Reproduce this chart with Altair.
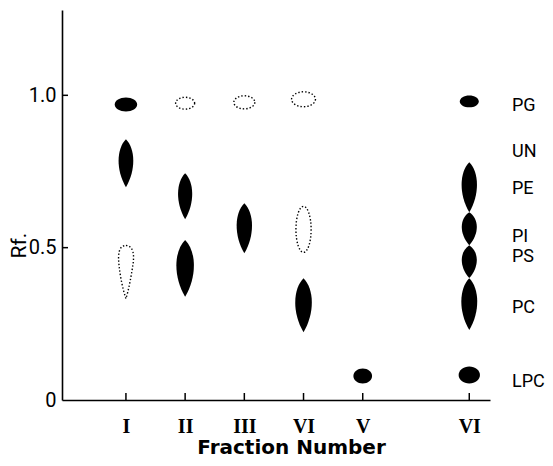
import altair as alt
import pandas as pd

# ---- data ----
lanes = [1, 2, 3, 4, 5, 6.8]
lane_labels = ["I", "II", "III", "VI", "V", "VI"]

spot_lane = [1, 1, 1, 2, 2, 2, 3, 3, 4, 4, 4, 5, 6.8, 6.8, 6.8, 6.8, 6.8, 6.8]
spot_rf = [0.970, 0.777, 0.420, 0.974, 0.669, 0.432, 0.977, 0.564, 0.987, 0.560,
           0.311, 0.079, 0.980, 0.698, 0.562, 0.454, 0.315, 0.082]
spot_len = [0.046, 0.157, 0.174, 0.039, 0.151, 0.187, 0.043, 0.164, 0.049, 0.151,
            0.177, 0.049, 0.039, 0.164, 0.108, 0.108, 0.170, 0.056]
spot_form = ["oval", "lens", "tear", "oval", "lens", "lens", "oval", "lens", "oval", "slim",
             "lens", "round", "oval", "lens", "fat", "fat", "lens", "round"]
spot_stain = ["solid", "solid", "dotted", "dotted", "solid", "solid", "dotted", "solid", "dotted", "dotted",
              "solid", "solid", "solid", "solid", "solid", "solid", "solid", "solid"]

lipid_names = ["PG", "UN", "PE", "PI", "PS", "PC", "LPC"]
lipid_rf = [0.965, 0.813, 0.692, 0.534, 0.469, 0.302, 0.059]

y_ticks = [0, 0.5, 1.0]

spots = pd.DataFrame({"lane": spot_lane, "rf": spot_rf, "len": spot_len,
                      "form": spot_form, "stain": spot_stain})
lanes_df = pd.DataFrame({"lane": lanes, "label": lane_labels})
ytick_df = pd.DataFrame({"rf": [v for v in y_ticks if v > 0]})
lipids = pd.DataFrame({"name": lipid_names, "rf": lipid_rf})


# ---- symbol outlines (unit box -1..1 vertically) ----
def ellipse(a):
    k = 0.5523
    return (f"M{a},0 C{a},{k} {k*a:.3f},1 0,1 C{-k*a:.3f},1 {-a},{k} {-a},0 "
            f"C{-a},{-k} {-k*a:.3f},-1 0,-1 C{k*a:.3f},-1 {a},{-k} {a},0 Z")


def lens(c):
    return f"M0,-1 C{c},-0.6 {c+0.02},0.3 0,1 C{-c-0.02},0.3 {-c},-0.6 0,-1 Z"


tear = ("M0,-1 C0.3,-1 0.32,-0.6 0.26,-0.25 C0.2,0.15 0.1,0.7 0,1 "
        "C-0.12,0.65 -0.22,0.15 -0.26,-0.25 C-0.3,-0.6 -0.3,-1 0,-1 Z")

forms = ["oval", "round", "slim", "lens", "fat", "tear"]
paths = [ellipse(1.6), ellipse(1.25), ellipse(0.33), lens(0.4), lens(0.6), tear]

W, H = 428, 390
PX_PER_RF = H / 1.28
SANS = "Roboto"

label_expr = " : ".join(f"datum.value == {v} ? '{t}'" for v, t in zip(lanes, lane_labels)) + " : ''"

xscale = alt.Scale(domain=[-0.08, 7.15], nice=False, zero=False)
yscale = alt.Scale(domain=[0, 1.28], nice=False, zero=False)

xaxis = alt.Axis(values=lanes, labelExpr=label_expr, ticks=False, grid=False,
                 domainColor="black", domainWidth=1.6,
                 labelFont="Liberation Serif", labelFontSize=20, labelColor="black",
                 labelFontWeight="bold",
                 labelPadding=16, title="Fraction Number",
                 titleFont="DejaVu Sans", titleFontWeight="bold", titleFontSize=20,
                 titleColor="black", titleX=229, titleY=53, titleAlign="center",
                 titleBaseline="alphabetic")
yaxis = alt.Axis(values=y_ticks, labelExpr="datum.value == 0 ? '0' : format(datum.value, '.1f')",
                 ticks=False, grid=False, domainColor="black", domainWidth=1.6,
                 labelFont=SANS,
                 labelFontSize=20, labelColor="black", labelPadding=6,
                 title="Rf.", titleFont=SANS,
                 titleFontSize=21, titleFontWeight="normal", titleColor="black",
                 titleX=-43, titleY=235, titleAlign="center", titleBaseline="middle", titleAngle=-90)

X = alt.X("lane:Q", scale=xscale, axis=xaxis)
Y = alt.Y("rf:Q", scale=yscale, axis=yaxis)
shape = alt.Shape("form:N", scale=alt.Scale(domain=forms, range=paths), legend=None)
size = alt.Size("len:Q", scale=alt.Scale(type="pow", exponent=2, domain=[0, 1],
                                         range=[0, PX_PER_RF ** 2]), legend=None)

solid = alt.Chart(spots).transform_filter("datum.stain == 'solid'").mark_point(
    filled=True, color="black", opacity=1, strokeWidth=0
).encode(x=X, y=Y, shape=shape, size=size)

dotted = alt.Chart(spots).transform_filter("datum.stain == 'dotted'").mark_point(
    filled=False, color="black", opacity=1, strokeWidth=1.4, strokeDash=[1.4, 2.0]
).encode(x=X, y=Y, shape=shape, size=size)

xticks = alt.Chart(lanes_df).mark_rule(color="black", strokeWidth=1.5).encode(
    x=X, y=alt.value(H), y2=alt.value(H - 7))

yticks = alt.Chart(ytick_df).mark_rule(color="black", strokeWidth=1.5).encode(
    y=Y, x=alt.value(0), x2=alt.value(6))

labels = alt.Chart(lipids).mark_text(
    align="left", baseline="middle", fontSize=18, color="black", font=SANS
).encode(y=Y, x=alt.value(450), text="name:N")

chart = alt.layer(xticks, yticks, solid, dotted, labels).properties(
    width=W, height=H,
    autosize=alt.AutoSizeParams(type="none"),
    padding={"left": 54, "top": 2, "right": 55, "bottom": 58},
    background="white",
).configure_view(stroke=None)

chart.save("out.html", embed_options={"renderer": "svg", "actions": False})
